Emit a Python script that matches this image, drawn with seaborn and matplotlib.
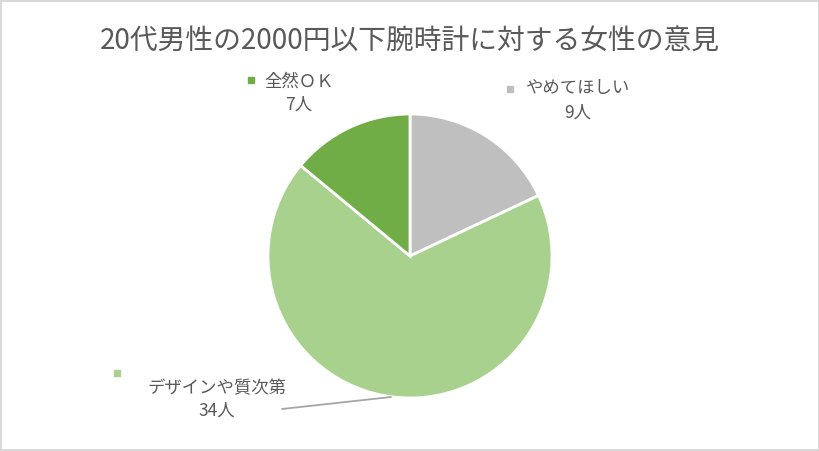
import matplotlib
matplotlib.use("Agg")
import matplotlib.pyplot as plt
import seaborn as sns

# data
categories = ["やめてほしい", "デザインや質次第", "全然ＯＫ"]
counts = [9, 34, 7]
colors = ["#bfbfbf", "#a9d18e", "#70ad47"]
title = "20代男性の2000円以下腕時計に対する女性の意見"

sns.set_theme(style="white")
plt.rcParams["font.family"] = ["Noto Sans CJK JP", "DejaVu Sans"]

fig = plt.figure(figsize=(8.2, 4.51), dpi=100)
fig.patch.set_facecolor("white")
fig.patch.set_edgecolor("#d9d9d9")
fig.patch.set_linewidth(1.5)

# pie axes: centre (410, 256) px, radius 142 px
W, H, cx, cy, r = 820, 451, 410, 256, 142
ax = fig.add_axes([(cx - r) / W, (H - cy - r) / H, 2 * r / W, 2 * r / H])
wedges, _ = ax.pie(counts, colors=colors, startangle=90, counterclock=False,
                   wedgeprops=dict(edgecolor="white", linewidth=2))
ax.set_xlim(-1, 1)
ax.set_ylim(-1, 1)
ax.set_aspect("equal")
ax.axis("off")

def px(x, y):
    return (x - cx) / r, (cy - y) / r

txt = "#595959"
fs = 12.5
# label positions (pixel space)
label_pos = {
    "やめてほしい": ((578, 88), (578, 113), (510, 89)),
    "デザインや質次第": ((217, 388), (217, 411), (117, 373)),
    "全然ＯＫ": ((299, 82), (299, 105), (251, 80)),
}
for cat, n, col in zip(categories, counts, colors):
    (l1, l2, mk) = label_pos[cat]
    ax.text(*px(*l1), cat, ha="center", va="center", fontsize=fs, color=txt, clip_on=False)
    ax.text(*px(*l2), f"{n}人", ha="center", va="center", fontsize=fs, color=txt, clip_on=False)
    ax.plot(*px(*mk), marker="s", markersize=4.5, color=col, clip_on=False)

# leader line for the large slice
x0, y0 = px(282, 409)
x1, y1 = px(391, 397)
ax.plot([x0, x1], [y0, y1], color="#a6a6a6", linewidth=1.3, clip_on=False)

fig.text(0.5, 1 - 42 / H, title, ha="center", va="center", fontsize=20, color=txt)

fig.savefig("out.png", dpi=100)
